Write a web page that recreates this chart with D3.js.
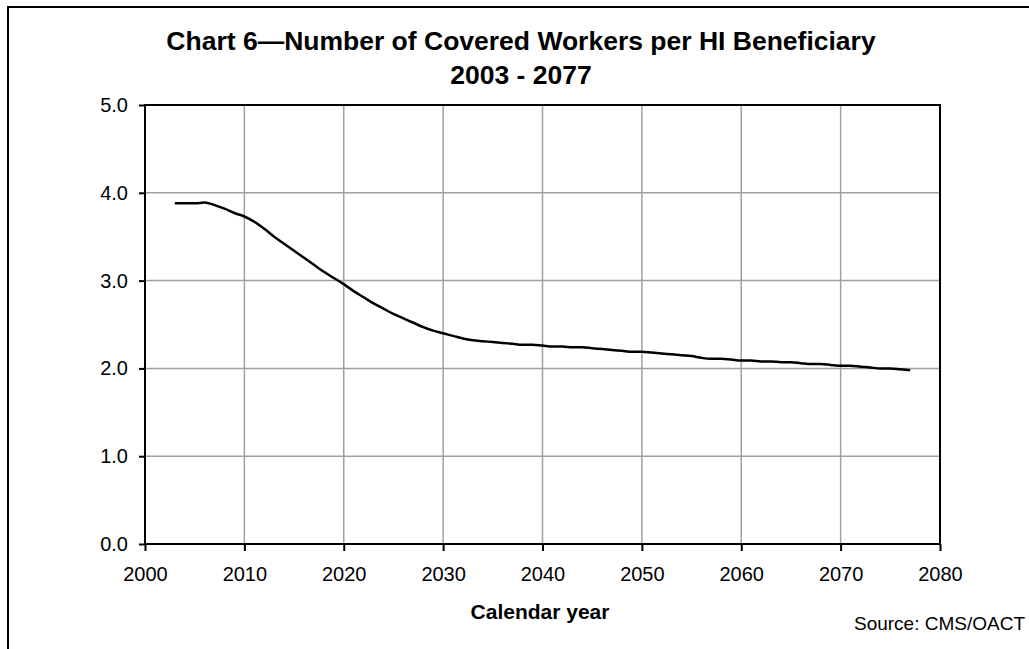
<!DOCTYPE html>
<html>
<head>
<meta charset="utf-8">
<script src="https://cdn.jsdelivr.net/npm/d3@7"></script>
<style>
  body { margin: 0; background: #fff; }
  text { font-family: "Liberation Sans", Arial, sans-serif; fill: #000; }
</style>
</head>
<body>
<div id="chart"></div>
<script>
var width = 1029;
var height = 649;

// workers per HI beneficiary (2003-2077)
var years = d3.range(2003, 2078);
var ratios = [
    3.88, 3.88, 3.88, 3.89, 3.86, 3.82, 3.77, 3.73, 3.67, 3.59,
    3.50, 3.42, 3.34, 3.26, 3.18, 3.10, 3.03, 2.96, 2.88, 2.81,
    2.74, 2.68, 2.62, 2.57, 2.52, 2.47, 2.43, 2.40, 2.37, 2.34,
    2.32, 2.31, 2.30, 2.29, 2.28, 2.27, 2.27, 2.26, 2.25, 2.25,
    2.24, 2.24, 2.23, 2.22, 2.21, 2.20, 2.19, 2.19, 2.18, 2.17,
    2.16, 2.15, 2.14, 2.12, 2.11, 2.11, 2.10, 2.09, 2.09, 2.08,
    2.08, 2.07, 2.07, 2.06, 2.05, 2.05, 2.04, 2.03, 2.03, 2.02,
    2.01, 2.00, 2.00, 1.99, 1.98
];
var xTicks = [2000, 2010, 2020, 2030, 2040, 2050, 2060, 2070, 2080];
var yTicks = [0, 1, 2, 3, 4, 5];

var titleLines = ["Chart 6\u2014Number of Covered Workers per HI Beneficiary", "2003 - 2077"];
var xLabel = "Calendar year";
var sourceNote = "Source: CMS/OACT";

var plot = {left: 145, top: 105, right: 940, bottom: 544};

var svg = d3.select("#chart").append("svg")
    .attr("width", width)
    .attr("height", height);

// outer frame (cut off at right and bottom)
svg.append("path")
    .attr("d", "M8," + height + "V7H" + width)
    .attr("fill", "none")
    .attr("stroke", "#000")
    .attr("stroke-width", 2);

var x = d3.scaleLinear().domain([2000, 2080]).range([plot.left, plot.right]);
var y = d3.scaleLinear().domain([0, 5]).range([plot.bottom, plot.top]);

// gridlines
svg.append("g").selectAll("line")
    .data(xTicks.slice(1, -1))
    .enter().append("line")
    .attr("x1", d => x(d)).attr("x2", d => x(d))
    .attr("y1", plot.top).attr("y2", plot.bottom)
    .attr("stroke", "#a0a0a0").attr("stroke-width", 1.5);

svg.append("g").selectAll("line")
    .data(yTicks.slice(1, -1))
    .enter().append("line")
    .attr("x1", plot.left).attr("x2", plot.right)
    .attr("y1", d => y(d)).attr("y2", d => y(d))
    .attr("stroke", "#a0a0a0").attr("stroke-width", 1.5);

// plot border
svg.append("rect")
    .attr("x", plot.left).attr("y", plot.top)
    .attr("width", plot.right - plot.left)
    .attr("height", plot.bottom - plot.top)
    .attr("fill", "none")
    .attr("stroke", "#000")
    .attr("stroke-width", 2);

var xAxis = svg.append("g")
    .attr("transform", "translate(0," + plot.bottom + ")")
    .call(d3.axisBottom(x).tickValues(xTicks).tickFormat(d3.format("d")).tickSize(7).tickPadding(16));

var yAxis = svg.append("g")
    .attr("transform", "translate(" + plot.left + ",0)")
    .call(d3.axisLeft(y).tickValues(yTicks).tickFormat(d3.format(".1f")).tickSize(6).tickPadding(11));

[xAxis, yAxis].forEach(function(ax){
    ax.select(".domain").remove();
    ax.selectAll(".tick line").attr("stroke", "#000").attr("stroke-width", 2);
    ax.selectAll(".tick text")
        .style("font-family", "'Liberation Sans', Arial, sans-serif")
        .style("font-size", "20px")
        .attr("fill", "#000");
});

// series
var line = d3.line()
    .x((d, i) => x(years[i]))
    .y(d => y(d))
    .curve(d3.curveMonotoneX);

svg.append("path")
    .datum(ratios)
    .attr("d", line)
    .attr("fill", "none")
    .attr("stroke", "#000")
    .attr("stroke-width", 2.5);

// titles
svg.append("text")
    .attr("x", 521).attr("y", 50)
    .attr("text-anchor", "middle")
    .style("font-size", "26.5px").style("font-weight", "bold")
    .text(titleLines[0]);

svg.append("text")
    .attr("x", 521).attr("y", 84)
    .attr("text-anchor", "middle")
    .style("font-size", "26.5px").style("font-weight", "bold")
    .text(titleLines[1]);

svg.append("text")
    .attr("x", 540).attr("y", 619)
    .attr("text-anchor", "middle")
    .style("font-size", "21px").style("font-weight", "bold")
    .text(xLabel);

svg.append("text")
    .attr("x", 1025).attr("y", 630)
    .attr("text-anchor", "end")
    .style("font-size", "19px")
    .text(sourceNote);
</script>
</body>
</html>
